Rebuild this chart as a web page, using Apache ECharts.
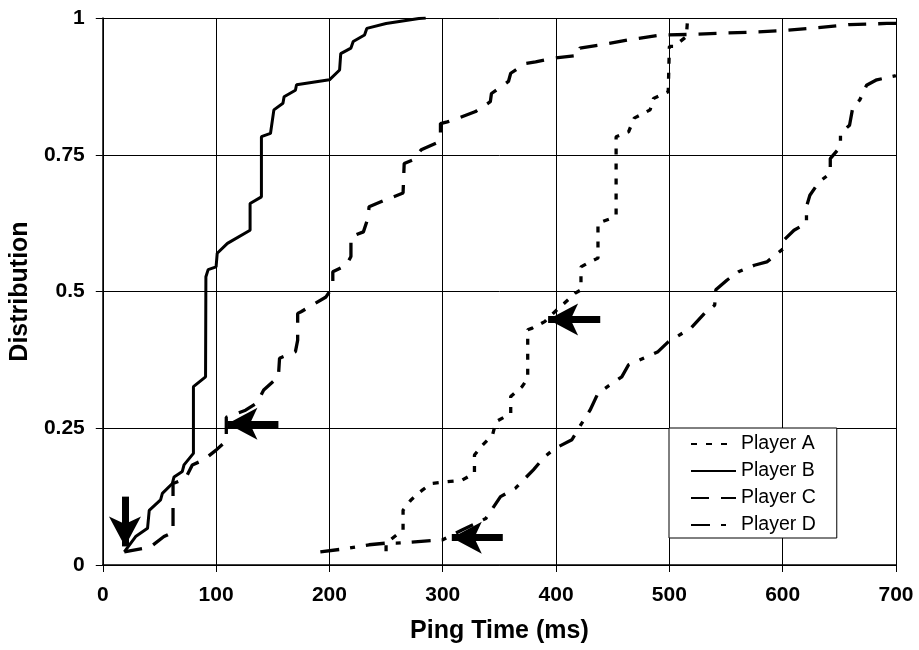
<!DOCTYPE html>
<html>
<head>
<meta charset="utf-8">
<script src="https://cdn.jsdelivr.net/npm/echarts@6/dist/echarts.min.js"></script>
<style>
  html, body { margin: 0; padding: 0; background: #fff; }
  #chart { width: 919px; height: 650px; }
</style>
</head>
<body>
<div id="chart"></div>
<script>
var xTicks = [0, 100, 200, 300, 400, 500, 600, 700]
var yTicks = [0, 0.25, 0.5, 0.75, 1]

var playerA = [
  [250, 0.025], [250, 0.04], [265, 0.064], [265, 0.1], [272, 0.119], [282, 0.137],
  [290, 0.149], [303, 0.152], [317, 0.155], [328, 0.168], [328, 0.201], [335, 0.219],
  [344, 0.238], [347, 0.262], [360, 0.277], [360, 0.308], [370, 0.326], [375, 0.341],
  [375, 0.43], [379, 0.433], [390, 0.445], [399, 0.463], [407, 0.478], [417, 0.497],
  [422, 0.503], [422, 0.545], [428, 0.552], [437, 0.561], [437, 0.625], [449, 0.634],
  [453, 0.64], [453, 0.783], [464, 0.792], [469, 0.817], [483, 0.832], [486, 0.853],
  [499, 0.865], [500, 0.868], [500, 0.948], [504, 0.948], [515, 0.966], [516, 0.996],
  [518, 1.0]
]

var playerB = [
  [19, 0.024], [29, 0.052], [39.5, 0.067], [41, 0.1], [51, 0.119], [52.6, 0.131],
  [61.4, 0.149], [62.9, 0.161], [70.2, 0.171], [71.7, 0.183], [80, 0.204], [80, 0.326],
  [90.7, 0.344], [91, 0.527], [93, 0.54], [100, 0.545], [101, 0.57], [110, 0.588],
  [130, 0.612], [130, 0.661], [140, 0.673], [140, 0.783], [148, 0.789], [151, 0.832],
  [159, 0.844], [160, 0.856], [170, 0.868], [171, 0.878], [200, 0.887], [209, 0.905],
  [210, 0.935], [219, 0.945], [221, 0.957], [231, 0.969], [233, 0.981], [250, 0.99],
  [279, 0.999], [285, 1.0]
]

var playerC = [
  [19, 0.024], [42, 0.033], [54, 0.052], [62, 0.06], [62, 0.149], [73, 0.158],
  [79, 0.183], [89, 0.192], [100, 0.21], [109, 0.227], [109, 0.27], [126, 0.283],
  [136, 0.296], [142, 0.32], [155, 0.344], [156, 0.378], [170, 0.39], [172, 0.411],
  [172, 0.46], [175, 0.463], [197, 0.49], [203, 0.509], [203, 0.536], [215, 0.548],
  [219, 0.564], [219, 0.6], [230, 0.609], [234, 0.634], [235, 0.655], [249, 0.667],
  [265, 0.68], [266, 0.734], [273, 0.74], [281, 0.759], [294, 0.771], [298, 0.786],
  [298, 0.807], [304, 0.81], [314, 0.817], [329, 0.829], [342, 0.847], [343, 0.862],
  [358, 0.884], [360, 0.899], [373, 0.917], [382, 0.92], [396, 0.926], [420, 0.932],
  [421, 0.945], [440, 0.951], [464, 0.96], [493, 0.969], [520, 0.97], [543, 0.972],
  [572, 0.974], [601, 0.977], [630, 0.982], [659, 0.988], [692, 0.99], [700, 0.99]
]

var playerD = [
  [192, 0.024], [215, 0.03], [235, 0.037], [250, 0.04], [259, 0.04], [300, 0.046],
  [317, 0.064], [338, 0.085], [351, 0.125], [364, 0.14], [380, 0.174], [390, 0.198],
  [399, 0.213], [414, 0.229], [420, 0.25], [430, 0.283], [437, 0.314], [458, 0.344],
  [464, 0.366], [490, 0.39], [499, 0.408], [519, 0.433], [531, 0.46], [540, 0.475],
  [541, 0.503], [551, 0.521], [561, 0.536], [575, 0.548], [586, 0.554], [601, 0.579],
  [601, 0.594], [610, 0.612], [621, 0.625], [621, 0.655], [624, 0.676], [632, 0.7],
  [642, 0.716], [642, 0.743], [651, 0.765], [651, 0.789], [659, 0.804], [662, 0.838],
  [668, 0.85], [674, 0.877], [683, 0.887], [699, 0.894], [700, 0.895]
]

// arrows: [fromX, fromY, toX, toY]
var arrows = [
  [19.6, 0.125, 19.6, 0.034],
  [155, 0.258, 110, 0.258],
  [439, 0.449, 393, 0.449],
  [353, 0.05, 308, 0.05]
]

var font = "'Liberation Sans', Arial, sans-serif"

function playerSeries (name, data, dash, width) {
  return {
    name: name,
    type: 'line',
    data: data,
    symbol: 'none',
    silent: true,
    itemStyle: { color: '#000' },
    lineStyle: { color: '#000', width: width, type: dash }
  }
}

function arrowSeries () {
  return {
    name: 'arrows',
    type: 'line',
    data: [],
    markLine: {
      silent: true,
      symbol: ['none', 'arrow'],
      symbolSize: [24, 30],
      symbolOffset: [15, 0],
      label: { show: false },
      lineStyle: { color: '#000', width: 7, type: 'solid' },
      itemStyle: { color: '#000' },
      emphasis: { disabled: true },
      data: arrows.map(function (a) {
        return [{ coord: [a[0], a[1]] }, { coord: [a[2], a[3]] }]
      })
    }
  }
}

var chart = echarts.init(document.getElementById('chart'))
chart.setOption({
  animation: false,
  textStyle: { fontFamily: font },
  grid: { left: 98, right: 23, top: 18, bottom: 85 },
  legend: {
    data: ['Player A', 'Player B', 'Player C', 'Player D'],
    orient: 'vertical',
    left: 669,
    top: 428,
    padding: [6, 21, 3, 21],
    itemWidth: 45,
    itemHeight: 20,
    itemGap: 7,
    backgroundColor: '#fff',
    borderColor: '#000',
    borderWidth: 1,
    borderRadius: 0,
    selectedMode: false,
    itemStyle: { opacity: 0 },
    textStyle: { fontFamily: font, fontSize: 19.5, color: '#000', padding: [0, 0, 0, 0] }
  },
  xAxis: {
    type: 'value',
    min: xTicks[0],
    max: xTicks[xTicks.length - 1],
    interval: 100,
    name: 'Ping Time (ms)',
    nameLocation: 'middle',
    nameGap: 54,
    nameTextStyle: { fontFamily: font, fontSize: 25, fontWeight: 'bold', color: '#000' },
    axisLine: { lineStyle: { color: '#000', width: 1.5 } },
    axisTick: { show: true, length: 7, lineStyle: { color: '#000' } },
    axisLabel: { margin: 20, fontFamily: font, fontSize: 21, fontWeight: 'bold', color: '#000' },
    splitLine: { show: true, lineStyle: { color: '#000', width: 1 } }
  },
  yAxis: {
    type: 'value',
    min: yTicks[0],
    max: yTicks[yTicks.length - 1],
    interval: 0.25,
    name: 'Distribution',
    nameLocation: 'middle',
    nameGap: 58,
    nameTextStyle: { fontFamily: font, fontSize: 25, fontWeight: 'bold', color: '#000' },
    axisLine: { show: true, lineStyle: { color: '#000', width: 1.5 } },
    axisTick: { show: true, length: 7, lineStyle: { color: '#000' } },
    axisLabel: { margin: 18, fontFamily: font, fontSize: 21, fontWeight: 'bold', color: '#000' },
    splitLine: { show: true, lineStyle: { color: '#000', width: 1 } }
  },
  series: [
    playerSeries('Player A', playerA, [6, 9], 3.3),
    playerSeries('Player B', playerB, 'solid', 3),
    playerSeries('Player C', playerC, [18, 12], 3.3),
    playerSeries('Player D', playerD, [19, 11, 5, 11], 3.3),
    arrowSeries()
  ]
})
</script>
</body>
</html>
